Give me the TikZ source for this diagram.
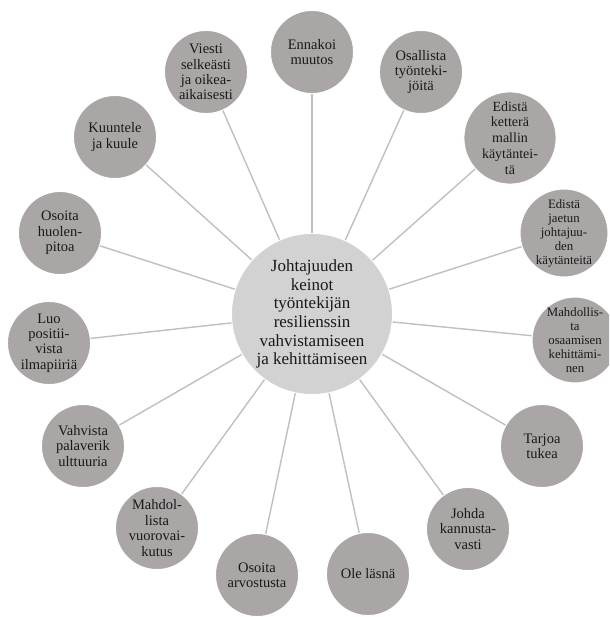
\documentclass[tikz,border=0pt]{standalone}
\usepackage{fontspec}
\setmainfont{Liberation Serif}
\usetikzlibrary{backgrounds}
\definecolor{leafgray}{RGB}{170,166,166}
\definecolor{hubgray}{RGB}{211,210,211}
\definecolor{spokegray}{RGB}{192,192,192}
\definecolor{inkcol}{RGB}{25,25,25}
\begin{document}
\begin{tikzpicture}[x=1pt,y=-1pt,
  leaf/.style={circle, fill=leafgray, draw=white, line width=0.9pt,
    minimum size=83pt, inner sep=0pt, align=center, text=inkcol,
    font=\fontsize{14.5}{15.3}\selectfont},
  leafsmall/.style={leaf, font=\fontsize{12.8}{14}\selectfont},
  hub/.style={circle, fill=hubgray, draw=white, line width=0.9pt,
    minimum size=161pt, inner sep=0pt, align=center, text=inkcol,
    font=\fontsize{17}{18.7}\selectfont},
  spoke/.style={draw=spokegray, line width=1.4pt}]
\useasboundingbox (0,0) rectangle (609,617);
\clip (0,0) rectangle (609,617);

% hub
\node[hub] (hub) at (312,314) {Johtajuuden\\keinot\\työntekijän\\resilienssin\\vahvistamiseen\\ja kehittämiseen};

% surrounding leaves, clockwise from the top
\node[leaf] (l1)  at (312,52)  {Ennakoi\\muutos};
\node[leaf] (l2)  at (421,72)  {Osallista\\työnteki-\\jöitä};
\node[leaf, font=\fontsize{14}{15.8}\selectfont] (l3) at (510,138) {Edistä\\ketterä\\mallin\\käytäntei-\\tä};
\node[leafsmall] (l4)  at (564,233) {Edistä\\jaetun\\johtajuu-\\den\\käytänteitä};
\node[leafsmall] (l5)  at (575,340) {Mahdollis-\\ta\\osaamisen\\kehittämi-\\nen};
\node[leaf] (l6)  at (542,446) {Tarjoa\\tukea};
\node[leaf] (l7)  at (468,529) {Johda\\kannusta-\\vasti};
\node[leaf] (l8)  at (368,574) {Ole läsnä};
\node[leaf] (l9)  at (257,575) {Osoita\\arvostusta};
\node[leaf, font=\fontsize{14.5}{15.6}\selectfont] (l10) at (157,528) {Mahdol-\\lista\\vuorovai-\\kutus};
\node[leaf] (l11) at (83,446)  {Vahvista\\palaverik\\ulttuuria};
\node[leaf] (l12) at (49,343)  {Luo\\positii-\\vista\\ilmapiiriä};
\node[leaf] (l13) at (60,233)  {Osoita\\huolen-\\pitoa};
\node[leaf] (l14) at (115,137) {Kuuntele\\ja kuule};
\node[leaf] (l15) at (206,72)  {Viesti\\selkeästi\\ja oikea-\\aikaisesti};

% white page and the spokes, both behind the circles
\begin{scope}[on background layer]
  \fill[white] (0,0) rectangle (609,617);
  \foreach \n in {l1,l2,l3,l4,l5,l6,l7,l8,l9,l10,l11,l12,l13,l14,l15}
    \draw[spoke] (hub.center) -- (\n.center);
\end{scope}
\end{tikzpicture}
\end{document}
